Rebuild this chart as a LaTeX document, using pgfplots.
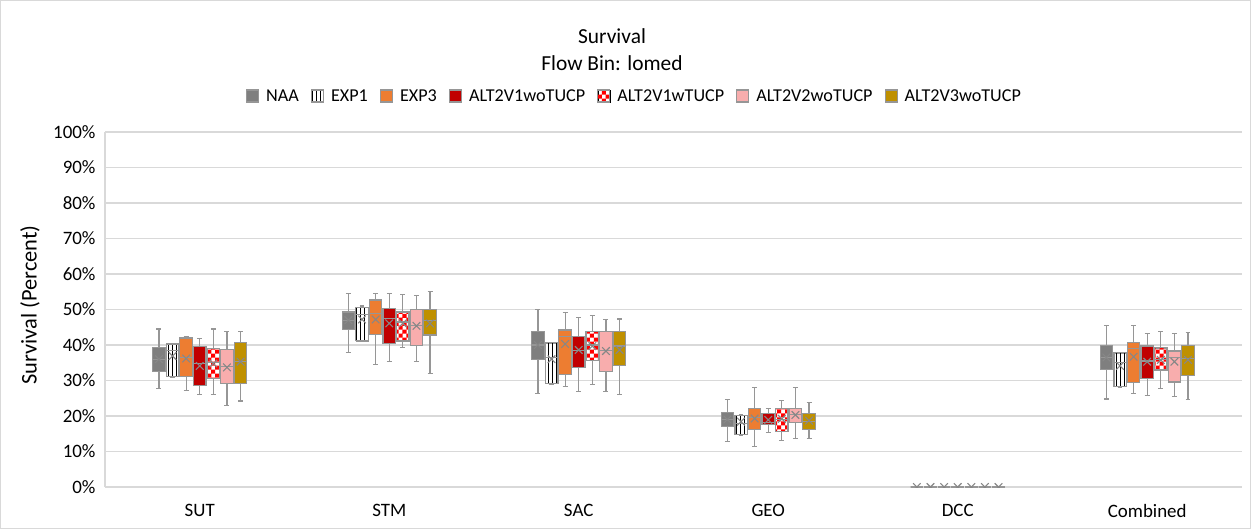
\documentclass[border=0pt]{standalone}
\usepackage{fontspec}
\setmainfont{Carlito}
\usepackage{pgfplots}
\pgfplotsset{compat=1.18}
\usepgfplotslibrary{statistics}
\usetikzlibrary{patterns,patterns.meta}

\definecolor{cNAA}{RGB}{127,127,127}
\definecolor{cEXP3}{RGB}{237,125,49}
\definecolor{cVwo}{RGB}{192,0,0}
\definecolor{cVw}{RGB}{255,0,0}
\definecolor{cVtwo}{RGB}{248,173,173}
\definecolor{cVthree}{RGB}{191,144,0}
\definecolor{bxd}{RGB}{150,150,150}
\definecolor{gridc}{RGB}{217,217,217}
\definecolor{mk}{RGB}{135,135,135}

\pgfdeclarepatternformonly{bigchecker}{\pgfqpoint{-.1pt}{-.1pt}}{\pgfqpoint{8.1pt}{8.1pt}}{\pgfqpoint{8pt}{8pt}}{%
 \pgfpathrectangle{\pgfqpoint{0pt}{0pt}}{\pgfqpoint{4.05pt}{4.05pt}}%
 \pgfpathrectangle{\pgfqpoint{4pt}{4pt}}{\pgfqpoint{4.05pt}{4.05pt}}%
 \pgfusepath{fill}}

\tikzset{
 fNAA/.style={draw=bxd, line width=1.2bp, fill=cNAA},
 fEXPone/.style={draw=bxd, line width=1.2bp, preaction={fill=white}, pattern={Lines[angle=90,distance=4bp,line width=0.8bp]}, pattern color=black},
 fEXPthree/.style={draw=bxd, line width=1.2bp, fill=cEXP3},
 fVwo/.style={draw=bxd, line width=1.2bp, fill=cVwo},
 fVw/.style={draw=bxd, line width=1.2bp, preaction={fill=white}, pattern=bigchecker, pattern color=cVw},
 fVtwo/.style={draw=bxd, line width=1.2bp, fill=cVtwo},
 fVthree/.style={draw=bxd, line width=1.2bp, fill=cVthree},
}
\pgfplotsset{
 leg/.style={legend image code/.code={\draw[#1] (0bp,-6bp) rectangle (12bp,6bp);}},
}

% #1 fill style, #2 position, #3 lower whisker, #4 lower quartile, #5 median, #6 upper quartile, #7 upper whisker, #8 average
\newcommand{\bx}[8]{%
\addplot[forget plot, draw=bxd, mark=none,
 boxplot/every box/.style={#1},
 boxplot prepared={draw position=#2, lower whisker=#3, lower quartile=#4, median=#5, upper quartile=#6, upper whisker=#7, average=#8}] coordinates {};}

\begin{document}
\begin{tikzpicture}
\draw[gridc, line width=1bp] (0.5bp,-0.5bp) rectangle (1250.5bp,-528.5bp);
\node[font=\fontsize{21.5}{24}\selectfont, anchor=base] at (612bp,-43.3bp) {Survival};
\node[font=\fontsize{21.5}{24}\selectfont, anchor=base] at (612bp,-70bp) {Flow Bin: lomed};
\begin{axis}[
 at={(105bp,-487bp)}, anchor=south west,
 width=1137bp, height=355bp, scale only axis,
 xmin=-0.5, xmax=5.5, ymin=0, ymax=100,
 xtick={0,1,2,3,4,5}, xticklabels={SUT,STM,SAC,GEO,DCC,Combined},
 ytick={0,10,...,100}, yticklabel={\pgfmathprintnumber{\tick}\%},
 /pgf/number format/assume math mode=true,
 major tick length=0pt,
 ymajorgrids, grid style={gridc, line width=1.3bp},
 axis lines*=left, axis line style={gridc, line width=1.3bp},
 tick label style={font=\fontsize{19}{21}\selectfont, text=black},
 yticklabel style={xshift=-6bp},
 xticklabel style={yshift=-14bp},
 ylabel={Survival (Percent)},
 every axis y label/.style={at={(rel axis cs:-0.066,0.5127)}, rotate=90, anchor=center, font=\fontsize{22.5}{25}\selectfont},
 legend style={at={(0.4661,1.1014)}, anchor=center, draw=none, fill=none,
   font=\fontsize{18.2}{20}\selectfont, nodes={inner xsep=3bp, inner ysep=2bp},
   /tikz/every even column/.append style={column sep=9bp},
   /tikz/every odd column/.append style={column sep=4bp}},
 legend columns=7, legend cell align=left,
 boxplot/draw direction=y,
 boxplot/box extend=0.066,
 boxplot/whisker extend=0.026,
 boxplot/every whisker/.style={draw=bxd, line width=1.2bp},
 boxplot/every median/.style={draw=bxd, line width=1.2bp},
 boxplot/draw/average/.code={%
   \draw[mk, line width=1.1bp, solid, fill=none, pattern=none]
     (boxplot box cs:\pgfplotsboxplotvalue{average},0.5) +(-3.8bp,-3.8bp) -- +(3.8bp,3.8bp)
     +(-3.8bp,3.8bp) -- +(3.8bp,-3.8bp);},
]
\addlegendimage{leg={fNAA}}\addlegendentry{NAA}
\addlegendimage{leg={fEXPone}}\addlegendentry{EXP1}
\addlegendimage{leg={fEXPthree}}\addlegendentry{EXP3}
\addlegendimage{leg={fVwo}}\addlegendentry{ALT2V1woTUCP}
\addlegendimage{leg={fVw}}\addlegendentry{ALT2V1wTUCP}
\addlegendimage{leg={fVtwo}}\addlegendentry{ALT2V2woTUCP}
\addlegendimage{leg={fVthree}}\addlegendentry{ALT2V3woTUCP}

% SUT
\bx{fNAA}{-0.2154}{27.8}{32.5}{36}{39.3}{44.5}{36}
\bx{fEXPone}{-0.1436}{31}{31.1}{38.5}{40.3}{40.5}{36.9}
\bx{fEXPthree}{-0.0718}{27.1}{31.1}{36.5}{42}{42.3}{36.2}
\bx{fVwo}{0}{26.1}{28.5}{34.8}{39.5}{41.8}{34.1}
\bx{fVw}{0.0718}{26.1}{30.6}{35}{39.1}{44.5}{34.8}
\bx{fVtwo}{0.1436}{23}{29.2}{34}{38.8}{43.7}{33.7}
\bx{fVthree}{0.2154}{24.2}{29.1}{35.3}{40.6}{43.7}{35.3}
% STM
\bx{fNAA}{0.7846}{37.9}{44.4}{47}{49.3}{54.6}{47}
\bx{fEXPone}{0.8564}{41}{41.2}{48.5}{50.6}{51}{47.2}
\bx{fEXPthree}{0.9282}{34.5}{43}{48.9}{52.7}{54.6}{47.2}
\bx{fVwo}{1}{35.3}{40.5}{47.5}{50.3}{54.4}{46.1}
\bx{fVw}{1.0718}{39.4}{41.2}{46.5}{49.3}{54.2}{46.1}
\bx{fVtwo}{1.1436}{35.3}{39.8}{45.5}{49.9}{54}{45.4}
\bx{fVthree}{1.2154}{32}{42.8}{47}{50.1}{55.1}{46.1}
% SAC
\bx{fNAA}{1.7846}{26.4}{36}{40}{43.9}{50.1}{40}
\bx{fEXPone}{1.8564}{29}{29.2}{36.5}{40.6}{40.8}{36}
\bx{fEXPthree}{1.9282}{28.3}{31.7}{42.5}{44.2}{49.1}{40.3}
\bx{fVwo}{2}{27}{33.6}{38.5}{42.5}{47.8}{38.6}
\bx{fVw}{2.0718}{28.8}{35.6}{40}{43.9}{48.3}{39.7}
\bx{fVtwo}{2.1436}{27}{32.5}{38.5}{43.9}{47.1}{38.3}
\bx{fVthree}{2.2154}{26.1}{34.3}{39.7}{43.7}{47.3}{38.6}
% GEO
\bx{fNAA}{2.7846}{12.8}{17}{19}{21}{24.7}{19}
\bx{fEXPone}{2.8564}{14.6}{14.8}{18}{20.1}{20.3}{18.4}
\bx{fEXPthree}{2.9282}{11.4}{16.1}{19.5}{22.2}{28.1}{19.3}
\bx{fVwo}{3}{15.3}{17.5}{18.2}{20.6}{22.2}{18.9}
\bx{fVw}{3.0718}{13.2}{15.6}{19}{22.2}{24.3}{19.2}
\bx{fVtwo}{3.1436}{13.7}{18.1}{20.5}{22.2}{28.1}{20.3}
\bx{fVthree}{3.2154}{13.7}{16.3}{18.5}{20.7}{23.7}{18.7}
% DCC
\bx{fNAA}{3.7846}{0}{0}{0}{0}{0}{0}
\bx{fEXPone}{3.8564}{0}{0}{0}{0}{0}{0}
\bx{fEXPthree}{3.9282}{0}{0}{0}{0}{0}{0}
\bx{fVwo}{4}{0}{0}{0}{0}{0}{0}
\bx{fVw}{4.0718}{0}{0}{0}{0}{0}{0}
\bx{fVtwo}{4.1436}{0}{0}{0}{0}{0}{0}
\bx{fVthree}{4.2154}{0}{0}{0}{0}{0}{0}
% Combined
\bx{fNAA}{4.7846}{24.8}{33}{36.5}{39.8}{45.6}{36.5}
\bx{fEXPone}{4.8564}{28.1}{28.3}{35}{37.8}{38}{34.1}
\bx{fEXPthree}{4.9282}{26.4}{29.5}{39.1}{40.8}{45.6}{36.7}
\bx{fVwo}{5}{25.7}{30.5}{35.5}{39.7}{43.3}{35.3}
\bx{fVw}{5.0718}{27.8}{33}{36}{39.2}{43.7}{35.8}
\bx{fVtwo}{5.1436}{25.5}{29.6}{36.5}{38.3}{43.3}{35.3}
\bx{fVthree}{5.2154}{24.7}{31.5}{36.2}{39.8}{43.6}{35.8}
\end{axis}
\end{tikzpicture}
\end{document}
